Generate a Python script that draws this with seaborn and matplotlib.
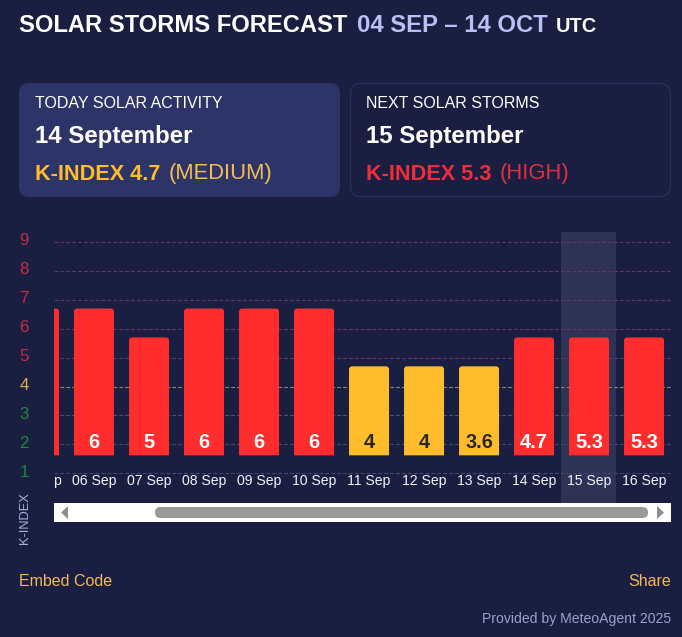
import matplotlib
matplotlib.use('Agg')
import matplotlib.pyplot as plt
import seaborn as sns
import pandas as pd
from matplotlib.patches import FancyBboxPatch, PathPatch, Polygon, Rectangle
from matplotlib.path import Path
from matplotlib.transforms import IdentityTransform

# data
days = ['05 Sep', '06 Sep', '07 Sep', '08 Sep', '09 Sep', '10 Sep', '11 Sep', '12 Sep', '13 Sep', '14 Sep', '15 Sep', '16 Sep']
day_labels = ['p', '06 Sep', '07 Sep', '08 Sep', '09 Sep', '10 Sep', '11 Sep', '12 Sep', '13 Sep', '14 Sep', '15 Sep', '16 Sep']
bar_tops = [6.7, 6.7, 5.7, 6.7, 6.7, 6.7, 4.7, 4.7, 4.7, 5.7, 5.7, 5.7]
bar_labels = ['', '6', '5', '6', '6', '6', '4', '4', '3.6', '4.7', '5.3', '5.3']
levels = ['high', 'high', 'high', 'high', 'high', 'high', 'medium', 'medium', 'medium', 'high', 'high', 'high']
ticks = [1, 2, 3, 4, 5, 6, 7, 8, 9]
tick_colors = ['#1d8a3a', '#1d8a3a', '#1d8a3a', '#e2b23c', '#c22f42', '#c22f42', '#c22f42', '#c22f42', '#c22f42']
grid_colors = ['#44476a', '#44476a', '#54516c', '#8a866e', '#643660', '#643660', '#643660', '#643660', '#643660']

BG = '#1a1f42'
RED = '#ff2d2d'
YELLOW = '#ffbd2b'
base = 1.62

sns.set_theme(style='white')
plt.rcParams['font.family'] = ['Liberation Sans', 'DejaVu Sans']

fig = plt.figure(figsize=(6.82, 6.37), dpi=100, facecolor=BG)

# overlay in pixel coordinates for the page furniture
page = fig.add_axes([0, 0, 1, 1], zorder=0)
page.set_xlim(0, 682)
page.set_ylim(637, 0)
page.axis('off')

# chart axes: x 54..671, y 232..503 px
ax = fig.add_axes([54 / 682, 1 - 503 / 637, 617 / 682, 271 / 637], zorder=1)
ax.patch.set_alpha(0)

df = pd.DataFrame({'day': days, 'top': bar_tops, 'level': levels})
df['height'] = df['top'] - base
sns.barplot(data=df, x='day', y='height', hue='level', dodge=False, bottom=base, width=0.727,
            palette={'high': RED, 'medium': YELLOW}, legend=False, saturation=1, ax=ax, zorder=3)
ax.set_xlim(0.2727, 11.49)
ax.set_ylim(-0.03, 9.35)
for s in ax.spines.values():
    s.set_visible(False)
ax.set_xlabel('')
ax.set_ylabel('')
ax.set_xticks([])
ax.set_yticks([])

ax.axvspan(9.49, 10.49, color='#2e3254', lw=0, zorder=1)
for t, gc in zip(ticks, grid_colors):
    ax.axhline(t, color=gc, lw=0.8, dashes=(3.5, 1.8), zorder=2)

# round the bar tops, radius in pixels
fig.canvas.draw()
for bar in list(ax.patches):
    if not isinstance(bar, Rectangle) or bar.get_height() == 0 or bar.get_zorder() != 3:
        continue
    (x0, y0), (x1, y1) = ax.transData.transform([(bar.get_x(), bar.get_y()),
                                                 (bar.get_x() + bar.get_width(), bar.get_y() + bar.get_height())])
    r = 3
    verts = [(x0, y0), (x0, y1 - r), (x0, y1), (x0 + r, y1), (x1 - r, y1), (x1, y1), (x1, y1 - r), (x1, y0), (x0, y0)]
    codes = [Path.MOVETO, Path.LINETO, Path.CURVE3, Path.CURVE3, Path.LINETO, Path.CURVE3, Path.CURVE3, Path.LINETO, Path.CLOSEPOLY]
    p = PathPatch(Path(verts, codes), facecolor=bar.get_facecolor(), lw=0, transform=IdentityTransform(), zorder=3)
    ax.add_artist(p)
    p.set_clip_box(ax.bbox)
    bar.set_visible(False)

for i, (lab, lev) in enumerate(zip(bar_labels, levels)):
    ax.text(i, 2.05, lab, ha='center', va='center', fontsize=14.4, fontweight='bold',
            color='white' if lev == 'high' else '#2b2620', clip_on=True, zorder=4)
    if i == 0:
        # only the tail of the scrolled-off label shows
        ax.text(i + 0.4, 0.72, day_labels[i], ha='right', va='center', fontsize=10.1, color='#f2f3f8', zorder=4)
    else:
        ax.text(i, 0.72, day_labels[i], ha='center', va='center', fontsize=10.1, color='#f2f3f8', clip_on=True, zorder=4)

for t, c in zip(ticks, tick_colors):
    page.text(24, 502 - 28.9 * t - 1, str(t), ha='center', va='center', fontsize=12.2, color=c)

page.text(25, 518, 'K-INDEX', rotation=90, ha='center', va='center', fontsize=9.3, color='#aab0dc')

# scrollbar
page.add_patch(Rectangle((54, 503), 617, 19, fc='white', lw=0))
page.add_patch(FancyBboxPatch((155, 507), 493, 11, boxstyle='round,pad=0,rounding_size=5.5', fc='#999999', lw=0))
page.add_patch(Polygon([(68, 506), (68, 519), (61, 512.5)], fc='#8f8f8f', lw=0))
page.add_patch(Polygon([(657, 506), (657, 519), (664, 512.5)], fc='#8f8f8f', lw=0))

# cards
page.add_patch(FancyBboxPatch((19, 83), 321, 114, boxstyle='round,pad=0,rounding_size=10', fc='#2d3468', ec='none'))
page.add_patch(FancyBboxPatch((350.5, 83.5), 320, 113, boxstyle='round,pad=0,rounding_size=10', fc=BG, ec='#2b3060', lw=0.8))

# title
page.text(19, 25, 'SOLAR STORMS FORECAST', fontsize=17.1, fontweight='bold', color='white', va='center')
page.text(357, 25, '04 SEP – 14 OCT', fontsize=17.2, fontweight='bold', color='#b9c0f5', va='center')
page.text(556, 26, 'UTC', fontsize=14.4, fontweight='bold', color='white', va='center')

# card text
page.text(35, 103, 'TODAY SOLAR ACTIVITY', fontsize=11.5, color='white', va='center')
page.text(35, 137, '14 September', fontsize=17.3, fontweight='bold', color='white', va='center')
page.text(35, 174, 'K-INDEX 4.7', fontsize=15.6, fontweight='bold', color=YELLOW, va='center')
page.text(169, 174, '(MEDIUM)', fontsize=15.8, color='#f2bd55', va='center')

page.text(366, 103, 'NEXT SOLAR STORMS', fontsize=11.5, color='white', va='center')
page.text(366, 137, '15 September', fontsize=17.3, fontweight='bold', color='white', va='center')
page.text(366, 174, 'K-INDEX 5.3', fontsize=15.6, fontweight='bold', color='#f02d38', va='center')
page.text(500, 174, '(HIGH)', fontsize=15.8, color='#e0303f', va='center')

# footer
page.text(19, 581, 'Embed Code', fontsize=11.5, color='#f5b957', va='center')
page.text(671, 581, 'Share', fontsize=11.5, color='#f5b957', va='center', ha='right')
page.text(671, 619, 'Provided by MeteoAgent 2025', fontsize=10.1, color='#9a9fd0', va='center', ha='right')

fig.savefig('out.png', dpi=100, facecolor=BG)
